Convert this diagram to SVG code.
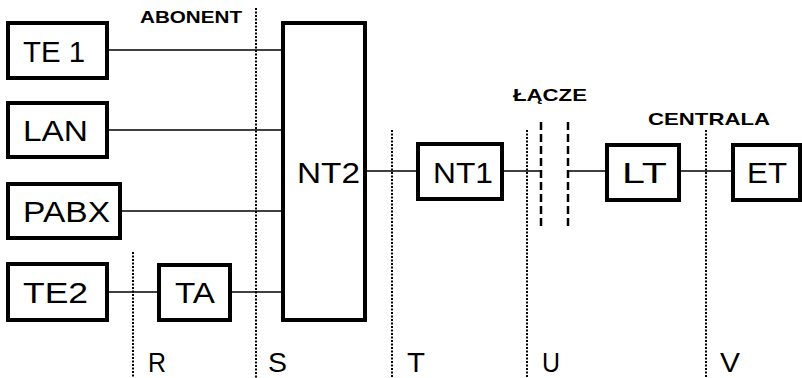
<svg xmlns="http://www.w3.org/2000/svg" width="802" height="378" viewBox="0 0 802 378">
<style>
.box{fill:#fff;stroke:#000;stroke-width:4}
.lbl{font-family:"Liberation Sans",Arial,sans-serif;font-size:29px;fill:#000}
.hdr{font-family:"Liberation Sans",Arial,sans-serif;font-size:17px;font-weight:bold;fill:#000}
.ref{font-family:"Liberation Sans",Arial,sans-serif;font-size:28px;fill:#000}
.wire{stroke:#000;stroke-width:1.6;fill:none}
.dot{stroke:#000;stroke-width:2;stroke-dasharray:2 1.5;fill:none}
.dash{stroke:#000;stroke-width:2.5;stroke-dasharray:8 4;fill:none}
</style>
<rect width="802" height="378" fill="#fff"/>
<g id="boundaries">
<line class="dot" x1="133" y1="252" x2="133" y2="378"/>
<line class="dot" x1="256" y1="8" x2="256" y2="378"/>
<line class="dot" x1="392" y1="130" x2="392" y2="378"/>
<line class="dot" x1="527" y1="130" x2="527" y2="378"/>
<line class="dot" x1="706" y1="130" x2="706" y2="378"/>
<line class="dash" x1="541" y1="122" x2="541" y2="226"/>
<line class="dash" x1="568" y1="122" x2="568" y2="226"/>
</g>
<g id="connectors">
<line class="wire" x1="107" y1="50" x2="283" y2="50"/>
<line class="wire" x1="107" y1="130" x2="283" y2="130"/>
<line class="wire" x1="120" y1="211" x2="283" y2="211"/>
<line class="wire" x1="107" y1="292" x2="159" y2="292"/>
<line class="wire" x1="230" y1="292" x2="283" y2="292"/>
<line class="wire" x1="365" y1="171" x2="418" y2="171"/>
<line class="wire" x1="502" y1="171" x2="541" y2="171"/>
<line class="wire" x1="568" y1="171" x2="607" y2="171"/>
<line class="wire" x1="679" y1="171" x2="732" y2="171"/>
</g>
<g id="TE1"><rect class="box" x="8" y="23" width="99" height="55"/><text class="lbl" x="23" y="62" textLength="62" lengthAdjust="spacingAndGlyphs">TE 1</text></g>
<g id="LAN"><rect class="box" x="8" y="103" width="99" height="54"/><text class="lbl" x="23" y="141" textLength="65" lengthAdjust="spacingAndGlyphs">LAN</text></g>
<g id="PABX"><rect class="box" x="8" y="184" width="112" height="54"/><text class="lbl" x="23" y="222" textLength="87" lengthAdjust="spacingAndGlyphs">PABX</text></g>
<g id="TE2"><rect class="box" x="8" y="264" width="99" height="56"/><text class="lbl" x="23" y="303" textLength="65" lengthAdjust="spacingAndGlyphs">TE2</text></g>
<g id="TA"><rect class="box" x="159" y="265" width="71" height="55"/><text class="lbl" x="175" y="303" textLength="40" lengthAdjust="spacingAndGlyphs">TA</text></g>
<g id="NT2"><rect class="box" x="283" y="23" width="82" height="297"/><text class="lbl" x="297" y="183" textLength="63" lengthAdjust="spacingAndGlyphs">NT2</text></g>
<g id="NT1"><rect class="box" x="418" y="144" width="84" height="55"/><text class="lbl" x="433" y="183" textLength="60" lengthAdjust="spacingAndGlyphs">NT1</text></g>
<g id="LT"><rect class="box" x="607" y="145" width="72" height="55"/><text class="lbl" x="622" y="183" textLength="45" lengthAdjust="spacingAndGlyphs">LT</text></g>
<g id="ET"><rect class="box" x="733" y="145" width="67" height="55"/><text class="lbl" x="747" y="183" textLength="40" lengthAdjust="spacingAndGlyphs">ET</text></g>
<g id="headers">
<text class="hdr" x="140" y="23" textLength="102" lengthAdjust="spacingAndGlyphs">ABONENT</text>
<text class="hdr" x="513" y="101" textLength="74" lengthAdjust="spacingAndGlyphs">ŁĄCZE</text>
<text class="hdr" x="648" y="125" textLength="122" lengthAdjust="spacingAndGlyphs">CENTRALA</text>
</g>
<g id="refpoints">
<text class="ref" x="148" y="372" textLength="18" lengthAdjust="spacingAndGlyphs">R</text>
<text class="ref" x="268" y="372" textLength="19" lengthAdjust="spacingAndGlyphs">S</text>
<text class="ref" x="407" y="372" textLength="18" lengthAdjust="spacingAndGlyphs">T</text>
<text class="ref" x="542" y="372" textLength="18" lengthAdjust="spacingAndGlyphs">U</text>
<text class="ref" x="720" y="372" textLength="20" lengthAdjust="spacingAndGlyphs">V</text>
</g>
</svg>
